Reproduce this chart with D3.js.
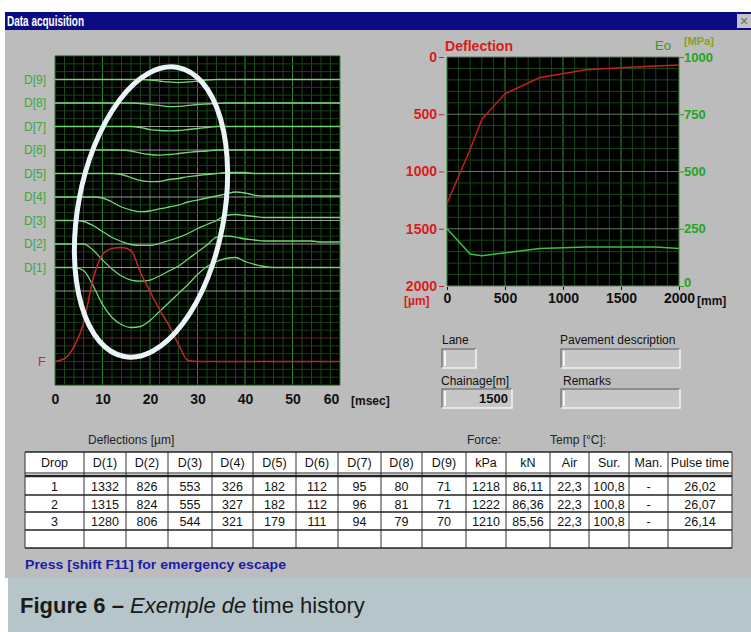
<!DOCTYPE html>
<html>
<head>
<meta charset="utf-8">
<script src="https://cdn.jsdelivr.net/npm/d3@7"></script>
<style>
  body { margin: 0; background: #fff; }
  svg { display: block; }
  text { font-family: "Liberation Sans", Arial, sans-serif; }
</style>
</head>
<body>
<svg width="751" height="632"></svg>
<script>
// ---- data ----
const timeMs = [0, 2, 4, 6, 8, 10, 12, 14, 16, 18, 20, 22, 24, 26, 28, 30, 32, 34, 36, 38, 40, 42, 44, 46, 48, 50, 52, 54, 56, 58, 60]

// time history per geophone, deflection in µm (positive = down)
const histD1 = [0, 0, 0, 67, 400, 820, 1110, 1265, 1332, 1310, 1177, 977, 777, 577, 377, 155, -22, -133, -200, -222, -133, -67, -22, 0, 0, 0, 0, 0, 0, 0, 0]
const histD2 = [0, 0, 0, 0, 133, 355, 555, 710, 800, 826, 800, 710, 600, 488, 333, 178, 22, -155, -178, -155, -111, -89, -67, -67, -67, -67, -67, -67, -44, -44, -44]
const histD3 = [0, 0, 0, 22, 111, 244, 377, 466, 533, 553, 553, 510, 444, 377, 289, 178, 89, 0, -111, -133, -111, -89, -67, -67, -67, -67, -67, -67, -67, -67, -67]
const histD4 = [0, 0, 0, 0, 0, 22, 111, 222, 289, 326, 311, 266, 222, 178, 111, 67, 22, -22, -67, -111, -89, -44, -22, -22, -22, -22, -22, -22, -22, -22, -22]
const histD5 = [0, 0, 0, 0, 0, 0, 0, 22, 89, 155, 182, 178, 133, 111, 67, 44, 22, 0, -22, -22, -22, 0, 0, 0, 0, 0, 0, 0, 0, 0, 0]
const histD6 = [0, 0, 0, 0, 0, 0, 0, 0, 22, 67, 100, 112, 100, 78, 55, 33, 22, 0, 0, 0, 0, 0, 0, 0, 0, 0, 0, 0, 0, 0, 0]
const histD7 = [0, 0, 0, 0, 0, 0, 0, 0, 0, 22, 67, 89, 95, 89, 67, 44, 22, 0, 0, 0, 0, 0, 0, 0, 0, 0, 0, 0, 0, 0, 0]
const histD8 = [0, 0, 0, 0, 0, 0, 0, 0, 0, 11, 33, 55, 80, 75, 55, 33, 22, 11, 0, 0, 0, 0, 0, 0, 0, 0, 0, 0, 0, 0, 0]
const histD9 = [0, 0, 0, 0, 0, 0, 0, 0, 0, 0, 11, 33, 55, 71, 55, 33, 11, 0, 0, 0, 0, 0, 0, 0, 0, 0, 0, 0, 0, 0, 0]
// load pulse, kPa
const histForce = [0, 32, 160, 406, 876, 1143, 1207, 1218, 1186, 951, 748, 555, 385, 182, 11, 0, 0, 0, 0, 0, 0, 0, 0, 0, 0, 0, 0, 0, 0, 0, 0]

const sensorNames = ['D[1]', 'D[2]', 'D[3]', 'D[4]', 'D[5]', 'D[6]', 'D[7]', 'D[8]', 'D[9]']
const histories = [histD1, histD2, histD3, histD4, histD5, histD6, histD7, histD8, histD9]
const timeTicks = [0, 10, 20, 30, 40, 50, 60]

// deflection bowl (last drop) and surface modulus
const offsetsMm = [0, 200, 300, 500, 800, 1200, 1500, 1800, 2000]
const eoMPa = [250, 140, 132, 145, 164, 170, 170, 170, 164]
const offsetTicks = [0, 500, 1000, 1500, 2000]
const deflTicks = [0, 500, 1000, 1500, 2000]
const eoTicks = [0, 250, 500, 750, 1000]

// table
const tableHeaders = ['Drop', 'D(1)', 'D(2)', 'D(3)', 'D(4)', 'D(5)', 'D(6)', 'D(7)', 'D(8)', 'D(9)', 'kPa', 'kN', 'Air', 'Sur.', 'Man.', 'Pulse time']
const drops = [1, 2, 3]
const dropDeflections = [
  [1332, 826, 553, 326, 182, 112, 95, 80, 71],
  [1315, 824, 555, 327, 182, 112, 96, 81, 71],
  [1280, 806, 544, 321, 179, 111, 94, 79, 70]
]
const forceKPa = [1218, 1222, 1210]
const forceKN = ['86,11', '86,36', '85,56']
const tempAir = ['22,3', '22,3', '22,3']
const tempSur = ['100,8', '100,8', '100,8']
const manual = ['-', '-', '-']
const pulseTime = ['26,02', '26,07', '26,14']
const chainage = 1500

// ---- drawing ----
const svg = d3.select('svg')

// window chrome
svg.append('rect').attr('width', 751).attr('height', 632).attr('fill', '#fff')
svg.append('rect').attr('x', 5).attr('y', 12).attr('width', 746).attr('height', 18).attr('fill', '#0b0b84')
svg.append('rect').attr('x', 5).attr('y', 30).attr('width', 746).attr('height', 548).attr('fill', '#bcbcbc')
svg.append('rect').attr('x', 8).attr('y', 578).attr('width', 743).attr('height', 54).attr('fill', '#b6c5ca')
svg.append('text').attr('x', 7).attr('y', 26).attr('fill', '#fff')
  .attr('font-weight', 'bold').attr('font-size', 14)
  .attr('textLength', 77).attr('lengthAdjust', 'spacingAndGlyphs')
  .text('Data acquisition')
svg.append('rect').attr('x', 737).attr('y', 14).attr('width', 14).attr('height', 14).attr('fill', '#c4c4c4')
svg.append('text').attr('x', 744).attr('y', 26).attr('text-anchor', 'middle').attr('font-size', 14).attr('fill', '#666').text('×')

// ---- left: time history ----
const xT = d3.scaleLinear().domain([0, 60]).range([55, 340])
const yRow = d3.scaleLinear().domain([0, 42]).range([56, 385])
const yBase = d3.scalePoint().domain(sensorNames).range([yRow(27), yRow(3)])
const amp = d3.scaleLinear().domain([0, 1332]).range([0, 60])
const fAmp = d3.scaleLinear().domain([0, 1218]).range([0, 114])
const forceBase = yRow(39)

const left = svg.append('g')
left.append('rect').attr('x', 55).attr('y', 56).attr('width', 285).attr('height', 329).attr('fill', '#000')

left.selectAll('.vgrid').data(d3.range(0, 61, 2)).enter().append('line')
  .attr('x1', d => xT(d)).attr('x2', d => xT(d)).attr('y1', 56).attr('y2', 385)
  .attr('stroke', d => d % 10 === 0 ? '#2e8c2e' : '#164a16').attr('stroke-width', 1)

const rowColor = r => {
  if (r >= 3 && r <= 30 && r % 3 === 0) return '#8fa08f'
  if (r === 36) return '#6a2424'
  return '#164416'
}
left.selectAll('.hgrid').data(d3.range(0, 43)).enter().append('line')
  .attr('x1', 55).attr('x2', 340).attr('y1', d => yRow(d)).attr('y2', d => yRow(d))
  .attr('stroke', rowColor).attr('stroke-width', 1)

const traceLine = (base, scale) => d3.line()
  .x((_d, i) => xT(timeMs[i]))
  .y(d => base + scale(d))
  .curve(d3.curveMonotoneX)

left.selectAll('.trace').data(histories).enter().append('path')
  .attr('d', (d, i) => traceLine(yBase(sensorNames[i]), amp)(d))
  .attr('fill', 'none').attr('stroke', '#6ed86e').attr('stroke-width', 1.3)

left.append('path')
  .attr('d', traceLine(forceBase, v => -fAmp(v))(histForce))
  .attr('fill', 'none').attr('stroke', '#c82424').attr('stroke-width', 1.5)

left.selectAll('.dlabel').data(sensorNames).enter().append('text')
  .attr('x', 46).attr('y', d => yBase(d)).attr('dy', '0.35em')
  .attr('text-anchor', 'end').attr('font-size', 12)
  .attr('fill', '#3aa83a').text(d => d)
left.append('text').attr('x', 46).attr('y', forceBase).attr('dy', '0.35em')
  .attr('text-anchor', 'end').attr('font-size', 13).attr('fill', '#d02a2a').text('F')

const xAxisT = left.append('g').attr('transform', 'translate(0,393)')
  .call(d3.axisBottom(xT).tickValues(timeTicks).tickSize(0).tickPadding(0))
xAxisT.select('.domain').remove()
xAxisT.selectAll('text').attr('font-size', 14).attr('font-weight', 'bold')
  .attr('fill', '#111').attr('dy', '0.75em')
  .attr('dx', d => d === 60 ? -9 : 0)
left.append('text').attr('x', 351).attr('y', 405).attr('font-size', 12)
  .attr('font-weight', 'bold').attr('fill', '#111').text('[msec]')

// highlight ellipse
svg.append('ellipse').attr('cx', 151).attr('cy', 212).attr('rx', 73).attr('ry', 147)
  .attr('transform', 'rotate(10.5,151,212)')
  .attr('fill', 'none').attr('stroke', '#eaf4f8').attr('stroke-width', 5)

// ---- right: deflection bowl ----
const xOff = d3.scaleLinear().domain([0, 2000]).range([447, 679])
const yDef = d3.scaleLinear().domain([0, 2000]).range([57, 286])
const yEo = d3.scaleLinear().domain([0, 1000]).range([286, 57])

const right = svg.append('g')
right.append('rect').attr('x', 447).attr('y', 57).attr('width', 232).attr('height', 229).attr('fill', '#000')
right.selectAll('.vgrid').data(d3.range(0, 2001, 100)).enter().append('line')
  .attr('x1', d => xOff(d)).attr('x2', d => xOff(d)).attr('y1', 57).attr('y2', 286)
  .attr('stroke', d => d % 500 === 0 ? '#2e8c2e' : '#164a16')
right.selectAll('.hgrid').data(d3.range(0, 2001, 100)).enter().append('line')
  .attr('x1', 447).attr('x2', 679).attr('y1', d => yDef(d)).attr('y2', d => yDef(d))
  .attr('stroke', d => d % 500 === 0 ? '#5c7c5c' : '#164a16')

const lastDrop = dropDeflections[dropDeflections.length - 1]
right.append('path')
  .attr('d', d3.line().x((_d, i) => xOff(offsetsMm[i])).y(d => yDef(d))(lastDrop))
  .attr('fill', 'none').attr('stroke', '#c81e1e').attr('stroke-width', 1.5)
right.append('path')
  .attr('d', d3.line().x((_d, i) => xOff(offsetsMm[i])).y(d => yEo(d))(eoMPa))
  .attr('fill', 'none').attr('stroke', '#3cc03c').attr('stroke-width', 1.5)

const styleAxis = (g, color) => {
  g.select('.domain').remove()
  g.selectAll('line').attr('stroke', color)
  g.selectAll('text').attr('font-size', 14).attr('font-weight', 'bold').attr('fill', color)
}
right.append('g').attr('transform', 'translate(444,0)')
  .call(d3.axisLeft(yDef).tickValues(deflTicks).tickSize(5).tickPadding(2).tickFormat(d3.format('d')))
  .call(g => styleAxis(g, '#d81c1c'))
right.append('g').attr('transform', 'translate(679,0)')
  .call(d3.axisRight(yEo).tickValues(eoTicks).tickSize(5).tickPadding(0).tickFormat(d3.format('d')))
  .call(g => styleAxis(g, '#1ea61e'))
  .call(g => g.selectAll('text').attr('dy', d => d === 0 ? '0.05em' : '0.32em').attr('font-size', 13))
right.append('g').attr('transform', 'translate(0,287)')
  .call(d3.axisBottom(xOff).tickValues(offsetTicks).tickSize(3).tickPadding(3).tickFormat(d3.format('d')))
  .call(g => styleAxis(g, '#111'))

right.append('text').attr('x', 445).attr('y', 51).attr('font-size', 14).attr('font-weight', 'bold')
  .attr('textLength', 68).attr('lengthAdjust', 'spacingAndGlyphs')
  .attr('fill', '#d81c1c').text('Deflection')
right.append('text').attr('x', 655).attr('y', 50).attr('font-size', 13)
  .attr('fill', '#2a9a2a').text('Eo')
right.append('text').attr('x', 684).attr('y', 45).attr('font-size', 11).attr('font-weight', 'bold')
  .attr('fill', '#8aa020').text('[MPa]')
right.append('text').attr('x', 404).attr('y', 305).attr('font-size', 12).attr('font-weight', 'bold')
  .attr('fill', '#d81c1c').text('[µm]')
right.append('text').attr('x', 697).attr('y', 305).attr('font-size', 12).attr('font-weight', 'bold')
  .attr('fill', '#111').text('[mm]')

// ---- input fields ----
const sunkenBox = (x, y, w, h) => {
  svg.append('rect').attr('x', x).attr('y', y).attr('width', w).attr('height', h).attr('fill', '#c6c6c6')
  svg.append('path').attr('d', `M${x},${y + h}V${y}H${x + w}`).attr('fill', 'none').attr('stroke', '#7c7c7c').attr('stroke-width', 1.5)
  svg.append('path').attr('d', `M${x},${y + h}H${x + w}V${y}`).attr('fill', 'none').attr('stroke', '#f4f4f4').attr('stroke-width', 1.5)
  svg.append('line').attr('x1', x + 3).attr('x2', x + 3).attr('y1', y + 2).attr('y2', y + h - 2).attr('stroke', '#f4f4f4').attr('stroke-width', 2)
}
const fieldLabel = (x, y, t) => svg.append('text').attr('x', x).attr('y', y)
  .attr('font-size', 12).attr('fill', '#111').text(t)

fieldLabel(442, 344, 'Lane')
sunkenBox(442, 349, 34, 19)
fieldLabel(441, 385, 'Chainage[m]')
sunkenBox(442, 389, 70, 19)
svg.append('text').attr('x', 508).attr('y', 403).attr('text-anchor', 'end')
  .attr('font-size', 13).attr('font-weight', 'bold').attr('fill', '#111').text(chainage)
fieldLabel(560, 344, 'Pavement description')
sunkenBox(561, 349, 119, 19)
fieldLabel(563, 385, 'Remarks')
sunkenBox(561, 389, 119, 19)

// ---- table ----
const colEdges = [25, 84, 126, 168, 212, 253, 296, 338, 381, 422, 466, 506, 550, 589, 629, 668, 732]
const rowEdges = [452, 476, 495, 512, 530, 548]
const rows = drops.map((d, i) => [d, ...dropDeflections[i], forceKPa[i], forceKN[i], tempAir[i], tempSur[i], manual[i], pulseTime[i]])

svg.append('text').attr('x', 88).attr('y', 444).attr('font-size', 12).attr('fill', '#222').text('Deflections [µm]')
svg.append('text').attr('x', 467).attr('y', 444).attr('font-size', 12).attr('fill', '#222').text('Force:')
svg.append('text').attr('x', 550).attr('y', 444).attr('font-size', 12).attr('fill', '#222').text('Temp [°C]:')

const table = svg.append('g')
table.append('rect').attr('x', 25).attr('y', 452).attr('width', 707).attr('height', 96).attr('fill', '#fff')
table.selectAll('.vline').data(colEdges).enter().append('line')
  .attr('x1', d => d).attr('x2', d => d).attr('y1', 452).attr('y2', 548)
  .attr('stroke', '#333').attr('stroke-width', 1)
table.selectAll('.hline').data(rowEdges).enter().append('line')
  .attr('x1', 25).attr('x2', 732).attr('y1', d => d).attr('y2', d => d)
  .attr('stroke', '#222').attr('stroke-width', (d, i) => i === 1 ? 2.5 : 1.5)
table.append('line').attr('x1', 25).attr('x2', 732).attr('y1', 473).attr('y2', 473)
  .attr('stroke', '#222').attr('stroke-width', 1)

table.selectAll('.head').data(tableHeaders).enter().append('text')
  .attr('x', (_d, i) => (colEdges[i] + colEdges[i + 1]) / 2).attr('y', 467)
  .attr('text-anchor', 'middle').attr('font-size', 12.5).attr('fill', '#111').text(d => d)

rows.forEach((r, ri) => {
  table.selectAll(`.cell${ri}`).data(r).enter().append('text')
    .attr('x', (_d, i) => (colEdges[i] + colEdges[i + 1]) / 2)
    .attr('y', (rowEdges[ri + 1] + rowEdges[ri + 2]) / 2 + 5)
    .attr('text-anchor', 'middle').attr('font-size', 12.5).attr('fill', '#111').text(d => d)
})

svg.append('text').attr('x', 25).attr('y', 569).attr('font-size', 13).attr('font-weight', 'bold')
  .attr('fill', '#1c1ca8').attr('textLength', 261).attr('lengthAdjust', 'spacingAndGlyphs')
  .text('Press [shift F11] for emergency escape')

// ---- caption ----
const cap = svg.append('text').attr('x', 20).attr('y', 613).attr('font-size', 22)
  .attr('font-family', '"Open Sans", "Noto Sans", sans-serif').attr('fill', '#1a1a1a')
cap.append('tspan').attr('font-weight', 'bold').text('Figure 6 – ')
cap.append('tspan').attr('font-style', 'italic').text('Exemple de')
cap.append('tspan').text(' time history')
</script>
</body>
</html>
